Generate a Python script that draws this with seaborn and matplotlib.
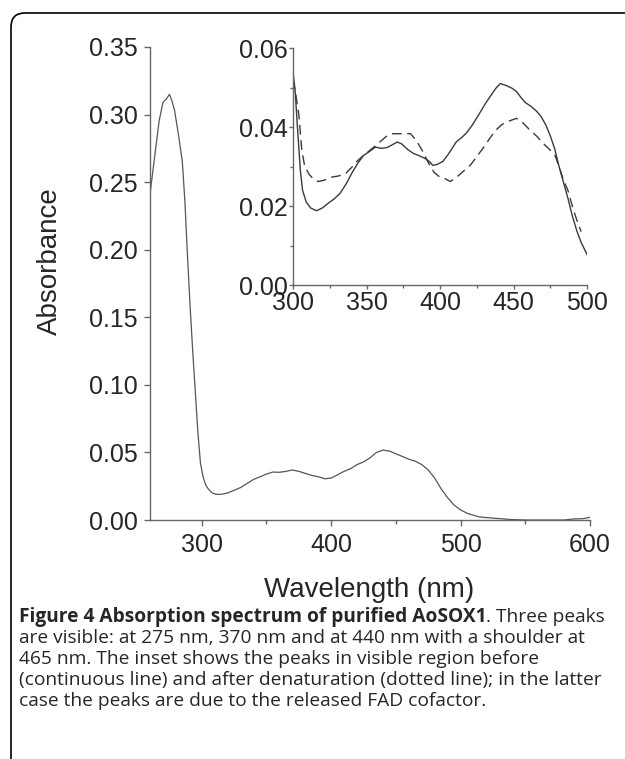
import matplotlib
matplotlib.use("Agg")
import matplotlib.pyplot as plt
import matplotlib.transforms as mtransforms
from matplotlib.patches import FancyBboxPatch
from matplotlib.ticker import MultipleLocator
import seaborn as sns

# main spectrum
main_wl = [260, 264, 267, 270, 273, 275, 277, 279, 282, 285, 287, 289, 291, 293, 295, 297,
           299, 301, 303, 305, 308, 311, 315, 320, 325, 330, 335, 340, 345, 350, 355, 360,
           365, 370, 375, 380, 385, 390, 395, 400, 405, 410, 415, 420, 425, 430, 435, 440,
           445, 450, 455, 460, 465, 470, 475, 480, 485, 490, 495, 500, 505, 510, 515, 520,
           530, 540, 550, 560, 570, 580, 588, 595, 600]
main_abs = [0.241, 0.272, 0.295, 0.309, 0.312, 0.315, 0.310, 0.303, 0.285, 0.265, 0.235, 0.195,
            0.158, 0.125, 0.095, 0.065, 0.042, 0.032, 0.026, 0.023, 0.020, 0.019, 0.019, 0.020,
            0.022, 0.024, 0.027, 0.030, 0.032, 0.034, 0.0355, 0.0353, 0.036, 0.037, 0.036,
            0.0345, 0.033, 0.032, 0.0305, 0.031, 0.0335, 0.036, 0.038, 0.041, 0.043, 0.046,
            0.050, 0.0517, 0.051, 0.049, 0.047, 0.045, 0.0435, 0.041, 0.037, 0.031, 0.023,
            0.0165, 0.011, 0.0075, 0.005, 0.0035, 0.0022, 0.0018, 0.001, 0.0003, 0.0, 0.0,
            0.0, 0.0, 0.0008, 0.001, 0.002]

# inset: before denaturation (solid)
native_wl = [300, 301.5, 303, 305, 306.5, 309, 312, 316, 320, 324, 328, 332, 336, 340, 344, 348,
             352, 356, 360, 364, 368, 371, 374, 378, 382, 386, 390, 393, 395, 398, 402, 406,
             411, 415, 418, 422, 427, 431, 435, 438, 441, 445, 449, 452, 455, 458, 462, 466,
             469, 472, 475, 478, 481, 484, 487, 490, 493, 496, 499, 501]
native_abs = [0.054, 0.049, 0.040, 0.029, 0.024, 0.021, 0.0195, 0.0188, 0.0195, 0.0207, 0.0218,
              0.0232, 0.0255, 0.0283, 0.0308, 0.0328, 0.0338, 0.0349, 0.0346, 0.0348, 0.0356,
              0.0362, 0.0357, 0.0343, 0.0333, 0.0327, 0.0320, 0.0312, 0.0303, 0.0305, 0.0313,
              0.0333, 0.0362, 0.0374, 0.0385, 0.0405, 0.0435, 0.0460, 0.0482, 0.0498, 0.0510,
              0.0505, 0.0498, 0.0490, 0.0475, 0.0462, 0.0452, 0.0439, 0.0425, 0.0405, 0.0378,
              0.0345, 0.0300, 0.0260, 0.0220, 0.0175, 0.0138, 0.0108, 0.0085, 0.0070]

# inset: after denaturation (dashed)
denat_wl = [300, 302, 304, 306, 308, 311, 314, 317, 321, 326, 331, 336, 340, 344, 348, 352, 356,
            360, 364, 368, 374, 380, 384, 388, 392, 396, 400, 404, 407, 411, 416, 421, 425, 430,
            434, 438, 442, 447, 452, 456, 461, 466, 470, 474, 478, 481, 484, 487, 490, 493, 496]
denat_abs = [0.052, 0.048, 0.043, 0.034, 0.030, 0.028, 0.0268, 0.0262, 0.0265, 0.0273, 0.0276,
             0.0283, 0.0298, 0.0315, 0.0328, 0.0340, 0.0352, 0.0365, 0.0378, 0.0383, 0.0383,
             0.0383, 0.0365, 0.0340, 0.0310, 0.0285, 0.0273, 0.0268, 0.0262, 0.0272, 0.0288,
             0.0305, 0.0325, 0.0350, 0.0372, 0.0392, 0.0406, 0.0415, 0.0422, 0.0412, 0.0393,
             0.0376, 0.0359, 0.0345, 0.0330, 0.0300, 0.0265, 0.0240, 0.0200, 0.0165, 0.0135]

caption_bold = "Figure 4 Absorption spectrum of purified AoSOX1"
caption_lines = [". Three peaks",
                 "are visible: at 275 nm, 370 nm and at 440 nm with a shoulder at",
                 "465 nm. The inset shows the peaks in visible region before",
                 "(continuous line) and after denaturation (dotted line); in the latter",
                 "case the peaks are due to the released FAD cofactor."]

sns.set_style("ticks")
plt.rcParams["font.family"] = ["Liberation Sans", "DejaVu Sans"]
spine_c = "#666666"

W, H = 625, 759
fig = plt.figure(figsize=(W / 100, H / 100), dpi=100)

# %%
# main plot
ax = fig.add_axes([150 / W, (H - 520) / H, 440 / W, 473 / H])
sns.lineplot(x=main_wl, y=main_abs, ax=ax, color="#555555", linewidth=0.9)
ax.set_xlim(260, 600)
ax.set_ylim(0, 0.35)
ax.xaxis.set_major_locator(MultipleLocator(100))
ax.xaxis.set_minor_locator(MultipleLocator(50))
ax.yaxis.set_major_locator(MultipleLocator(0.05))
ax.set_yticklabels([f"{v:.2f}" for v in ax.get_yticks()])
sns.despine(ax=ax)
for s in ["left", "bottom"]:
    ax.spines[s].set_color(spine_c)
    ax.spines[s].set_linewidth(1.0)
ax.tick_params(which="major", length=4, width=1, color=spine_c, labelsize=18, pad=5)
ax.tick_params(axis="x", which="minor", length=3, width=1, color=spine_c)
ax.set_xlabel("")
ax.set_ylabel("")
fig.text(50 / W, 1 - 261 / H, "Absorbance", rotation=90, ha="center", va="center", fontsize=20)
fig.text(369 / W, 1 - 590 / H, "Wavelength (nm)", ha="center", va="center", fontsize=20)

# %%
# inset
axi = fig.add_axes([293 / W, (H - 285) / H, 294 / W, 237 / H])
axi.patch.set_alpha(0)
sns.lineplot(x=native_wl, y=native_abs, ax=axi, color="#3a3a3a", linewidth=1.0)
sns.lineplot(x=denat_wl, y=denat_abs, ax=axi, color="#3a3a3a", linewidth=1.0,
             linestyle=(0, (7, 4)))
axi.set_xlim(300, 500)
axi.set_ylim(0, 0.06)
axi.xaxis.set_major_locator(MultipleLocator(50))
axi.xaxis.set_minor_locator(MultipleLocator(25))
axi.yaxis.set_major_locator(MultipleLocator(0.02))
axi.yaxis.set_minor_locator(MultipleLocator(0.01))
axi.set_yticklabels([f"{v:.2f}" for v in axi.get_yticks()])
sns.despine(ax=axi)
for s in ["left", "bottom"]:
    axi.spines[s].set_color(spine_c)
    axi.spines[s].set_linewidth(1.0)
axi.tick_params(which="major", length=3, width=1, color=spine_c, labelsize=18, pad=1)
axi.tick_params(which="minor", length=2.5, width=1, color=spine_c)

# %%
# caption
renderer = fig.canvas.get_renderer()
cap_font = ["Open Sans", "DejaVu Sans"]
cap_size = 13.8
x0 = 19 / W
line_y = [617, 638, 659, 680, 701]
t = fig.text(x0, 1 - line_y[0] / H, caption_bold, fontsize=cap_size, fontweight="bold",
             family=cap_font, va="center")
bb = t.get_window_extent(renderer)
fig.text(bb.x1 / W, 1 - line_y[0] / H, caption_lines[0], fontsize=cap_size, family=cap_font,
         va="center")
for yy, txt in zip(line_y[1:], caption_lines[1:]):
    fig.text(x0, 1 - yy / H, txt, fontsize=cap_size, family=cap_font, va="center")

# rounded frame, running off the right and bottom edges
frame = FancyBboxPatch((11, -40), 700, H - 13 + 40, boxstyle="round,pad=0,rounding_size=14",
                       transform=mtransforms.IdentityTransform(), fill=False,
                       linewidth=1.2, edgecolor="black")
fig.patches.append(frame)

fig.savefig("out.png", dpi=100)
